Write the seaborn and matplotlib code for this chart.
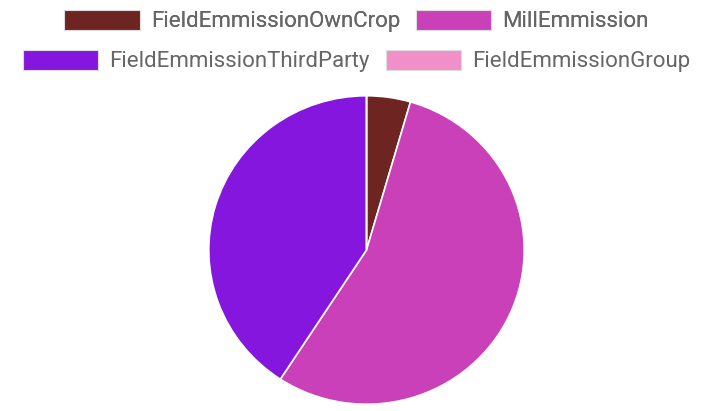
import matplotlib
matplotlib.use("Agg")
import matplotlib.pyplot as plt
from matplotlib.patches import Patch
import seaborn as sns

labels = ["FieldEmmissionOwnCrop", "MillEmmission", "FieldEmmissionThirdParty", "FieldEmmissionGroup"]
values = [4.5, 54.7, 40.8, 0.0]
colors = ["#6e2420", "#c940b8", "#8516dd", "#f08fc8"]

sns.set_theme(style="white")
plt.rcParams["font.family"] = ["Roboto", "DejaVu Sans"]

fig = plt.figure(figsize=(7.13, 4.11), dpi=100)
# pie box: x 208..525 px, y 95..405 px (slightly wider than tall, like the source)
ax = fig.add_axes([208 / 713, (411 - 405) / 411, 317 / 713, 310 / 411])
ax.pie(values, colors=colors, startangle=90, counterclock=False,
       wedgeprops=dict(edgecolor="white", linewidth=1.2))
ax.set_xlim(-1.005, 1.005)
ax.set_ylim(-1.005, 1.005)
ax.set_aspect("auto")
ax.axis("off")

handles = [Patch(facecolor=c, edgecolor="#dddddd", linewidth=0.8) for c in colors]

def add_row(idx, y):
    leg = fig.legend([handles[i] for i in idx], [labels[i] for i in idx],
                     loc="center", bbox_to_anchor=(0.5, y), ncol=2, frameon=False,
                     fontsize=16, handlelength=3.4, handleheight=1.0,
                     handletextpad=0.5, columnspacing=0.72, labelcolor="#666666",
                     borderaxespad=0, borderpad=0)
    return leg

leg1 = add_row([0, 1], 1 - 21 / 411)
fig.add_artist(leg1)
add_row([2, 3], 1 - 61 / 411)

fig.savefig("out.png", dpi=100)
